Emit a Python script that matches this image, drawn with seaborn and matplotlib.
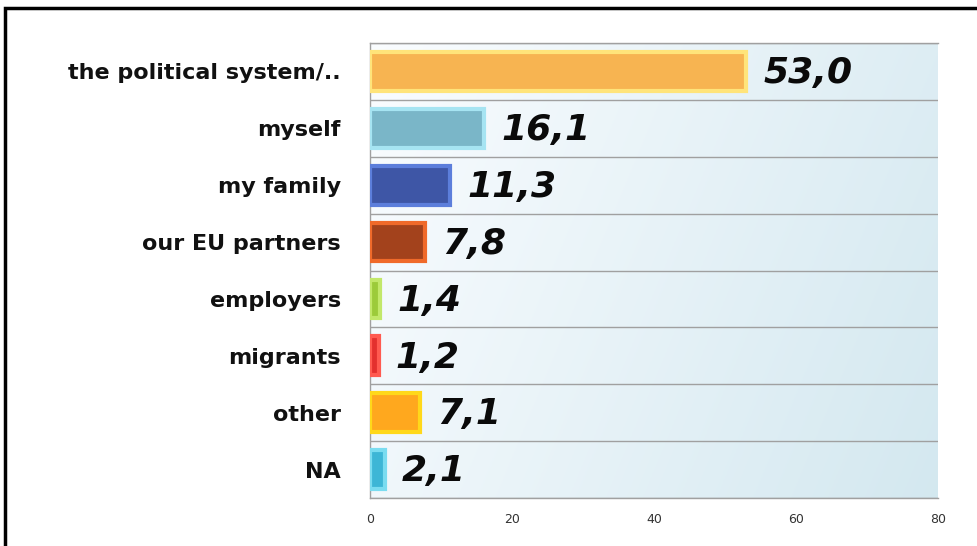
import numpy as np
import pandas as pd
import seaborn as sns
import matplotlib.pyplot as plt
from matplotlib.patches import Rectangle

categories = ['the political system/..', 'myself', 'my family', 'our EU partners',
              'employers', 'migrants', 'other', 'NA']
values = [53.0, 16.1, 11.3, 7.8, 1.4, 1.2, 7.1, 2.1]
value_labels = ['53,0', '16,1', '11,3', '7,8', '1,4', '1,2', '7,1', '2,1']
face_colors = ['#F7B451', '#7AB6C8', '#3E56A6', '#A3421C', '#9CCB3A', '#E3302E', '#FFA81E', '#3DB6D6']
edge_colors = ['#FFE47A', '#A6E4F2', '#5C7EDB', '#F06A2A', '#C2E86A', '#FF5A50', '#FFD81A', '#7ADCF0']
x_ticks = [0, 20, 40, 60, 80]

sns.set_style('white')
plt.rcParams['font.family'] = ['DejaVu Sans']

df = pd.DataFrame({'category': categories, 'value': values})

fig = plt.figure(figsize=(9.77, 5.46), dpi=100)
ax = fig.add_axes([370 / 977, 48 / 546, 568 / 977, 455 / 546])

# light gradient background
grad = np.linspace(0, 1, 256)
gx, gy = np.meshgrid(grad, grad)
g = 0.75 * gx + 0.25 * gy
c0 = np.array([0.98, 0.99, 1.0])
c1 = np.array([0.83, 0.91, 0.94])
img = c0 + (c1 - c0) * g[..., None]
ax.imshow(img, extent=[0, 80, 7.5, -0.5], aspect='auto', zorder=0, origin='upper')

sns.barplot(data=df, x='value', y='category', hue='category', palette=face_colors,
            saturation=1, orient='h', width=0.68, legend=False, ax=ax, zorder=3)

for bar, ec in zip(ax.patches, edge_colors):
    bar.set_edgecolor(ec)
    bar.set_linewidth(3)

for i, (v, lab) in enumerate(zip(values, value_labels)):
    ax.text(v + 2.4, i + 0.03, lab, va='center', ha='left', fontsize=26,
            fontweight='bold', fontstyle='italic', color='#0A0A0A', zorder=5)

ax.set_xlim(0, 80)
ax.set_ylim(7.5, -0.5)
ax.set_xticks(x_ticks)
ax.set_xticklabels([str(t) for t in x_ticks], fontsize=9, color='#333333')
ax.set_yticks(range(len(categories)))
ax.set_yticklabels(categories, fontsize=16, fontweight='bold', color='#111111')
ax.tick_params(axis='y', length=0, pad=21)
ax.tick_params(axis='x', length=5, color='#999999', direction='out', pad=6)
ax.set_xlabel('')
ax.set_ylabel('')

# row separators
ax.set_yticks(np.arange(-0.5, len(categories)), minor=True)
ax.tick_params(axis='y', which='minor', length=7, color='#999999', width=1)
ax.grid(axis='y', which='minor', color='#A0A0A0', linewidth=1, zorder=1)
ax.grid(axis='x', visible=False)
ax.set_axisbelow(True)

for side in ['left', 'bottom', 'top']:
    ax.spines[side].set_color('#A0A0A0')
    ax.spines[side].set_linewidth(1)
ax.spines['right'].set_visible(False)

# outer frame
fig.patches.append(Rectangle((5 / 977, -0.1), 1.2, 0.1 + 538 / 546, transform=fig.transFigure,
                             fill=False, edgecolor='black', linewidth=2.5, zorder=10))

fig.savefig('out.png', dpi=100)
